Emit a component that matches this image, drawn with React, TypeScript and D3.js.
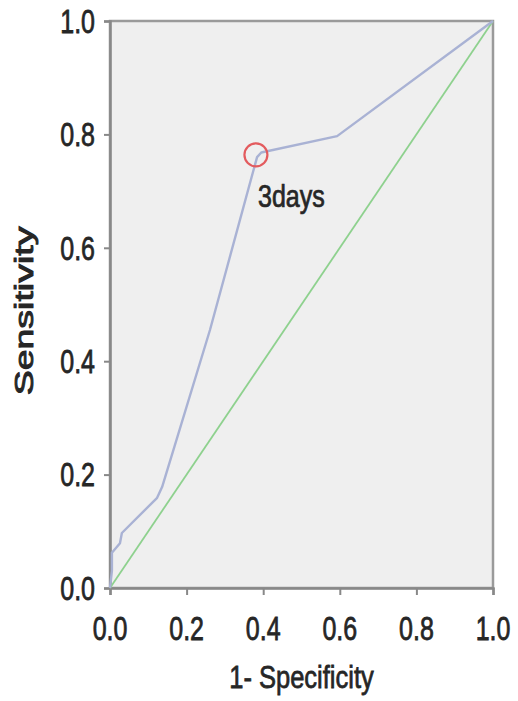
import React, { useRef, useEffect } from "react";
import * as d3 from "d3";

// ROC curve
const fpr = [0, 0.005, 0.005, 0.026, 0.031, 0.123, 0.136, 0.261, 0.384, 0.395, 0.593, 1];
const tpr = [0, 0.03, 0.062, 0.079, 0.097, 0.159, 0.178, 0.455, 0.76, 0.768, 0.797, 1];
const refLine = [0, 1];
const cutoff = { x: 0.381, y: 0.764, label: "3days" };
const tickValues = [0, 0.2, 0.4, 0.6, 0.8, 1.0];
const xTitle = "1- Specificity";
const yTitle = "Sensitivity";

const FONT = "'Liberation Sans', Arial, Helvetica, sans-serif";
const INK = "#262626";

const App = () => {
  const svgRef = useRef<SVGSVGElement>(null);

  useEffect(() => {
    const W = 518;
    const H = 701;
    const margin = { top: 21, right: 25, bottom: 113, left: 110 };
    const width = W - margin.left - margin.right;
    const height = H - margin.top - margin.bottom;

    const svg = d3.select(svgRef.current);
    svg.selectAll("*").remove();

    const x = d3.scaleLinear().domain([0, 1]).range([margin.left, margin.left + width]);
    const y = d3.scaleLinear().domain([0, 1]).range([margin.top + height, margin.top]);

    // plot background + frame
    svg
      .append("rect")
      .attr("x", x(0))
      .attr("y", y(1))
      .attr("width", width)
      .attr("height", height)
      .attr("fill", "#efefef")
      .attr("stroke", "#9a9a9a")
      .attr("stroke-width", 2.5);

    // axes (tick marks only, labels drawn below)
    const yAxis = svg
      .append("g")
      .attr("transform", `translate(${x(0)},0)`)
      .call(d3.axisLeft(y).tickValues(tickValues).tickSize(6).tickFormat(() => ""));
    const xAxis = svg
      .append("g")
      .attr("transform", `translate(0,${y(0)})`)
      .call(d3.axisBottom(x).tickValues(tickValues).tickSize(7).tickFormat(() => ""));
    [yAxis, xAxis].forEach((g) => {
      g.select(".domain").attr("stroke", "#888").attr("stroke-width", 2.5);
      g.selectAll(".tick line").attr("stroke", "#888").attr("stroke-width", 2);
    });

    const styleText = (sel: any, size: number) =>
      sel
        .attr("font-family", FONT)
        .attr("font-size", size)
        .attr("fill", INK)
        .attr("stroke", INK)
        .attr("stroke-width", 0.6);

    // tick labels
    svg
      .append("g")
      .selectAll("text")
      .data(tickValues)
      .join("text")
      .attr("transform", (d) => `translate(95,${y(d)}) scale(1,1.3)`)
      .attr("y", 9)
      .attr("text-anchor", "end")
      .call(styleText, 25)
      .text((d) => d3.format(".1f")(d));

    svg
      .append("g")
      .selectAll("text")
      .data(tickValues)
      .join("text")
      .attr("transform", (d) => `translate(${x(d)},640) scale(1,1.3)`)
      .attr("text-anchor", "middle")
      .call(styleText, 25)
      .text((d) => d3.format(".1f")(d));

    // axis titles
    svg
      .append("text")
      .attr("transform", `translate(${(x(0) + x(1)) / 2},688) scale(1,1.25)`)
      .attr("text-anchor", "middle")
      .call(styleText, 25.5)
      .text(xTitle);

    svg
      .append("text")
      .attr("transform", `translate(33,311) rotate(-90) scale(1.5,1)`)
      .attr("text-anchor", "middle")
      .call(styleText, 25)
      .attr("stroke-width", 0.9)
      .text(yTitle);

    const line = d3
      .line<number>()
      .x((d, i) => x(fpr[i]))
      .y((d, i) => y(tpr[i]));

    // reference diagonal
    svg
      .append("path")
      .datum(refLine)
      .attr("fill", "none")
      .attr("stroke", "#8ed18e")
      .attr("stroke-width", 1.8)
      .attr(
        "d",
        d3
          .line<number>()
          .x((d) => x(d))
          .y((d) => y(d))
      );

    // ROC curve
    svg
      .append("path")
      .datum(fpr)
      .attr("fill", "none")
      .attr("stroke", "#a9b2d4")
      .attr("stroke-width", 2.4)
      .attr("stroke-linejoin", "round")
      .attr("d", line);

    // cut-off marker
    svg
      .append("circle")
      .attr("cx", x(cutoff.x))
      .attr("cy", y(cutoff.y))
      .attr("r", 11.5)
      .attr("fill", "none")
      .attr("stroke", "#e35b5e")
      .attr("stroke-width", 2.2);

    svg
      .append("text")
      .attr("transform", `translate(258,207) scale(1,1.23)`)
      .call(styleText, 25)
      .text(cutoff.label);
  }, []);

  return (
    <svg
      ref={svgRef}
      width={518}
      height={701}
      style={{ position: "absolute", left: 0, top: 0, background: "#fff" }}
    />
  );
};

export default App;
